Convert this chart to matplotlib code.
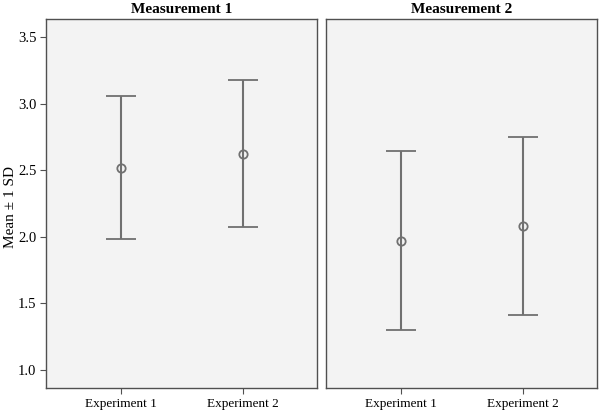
import matplotlib.pyplot as plt

plt.rcParams['font.family'] = ['Liberation Serif', 'DejaVu Serif']

panels = ['Measurement 1', 'Measurement 2']
groups = ['Experiment 1', 'Experiment 2']
means = [[2.52, 2.62], [1.97, 2.08]]
lower = [[1.98, 2.07], [1.30, 1.41]]
upper = [[3.055, 3.18], [2.645, 2.75]]
yticks = [1.0, 1.5, 2.0, 2.5, 3.0, 3.5]

line_col = '#707070'
frame_col = '#505050'

fig = plt.figure(figsize=(6, 4.13), dpi=100)
ax1 = fig.add_axes([0.0767, 0.0605, 0.4516, 0.8935])
ax2 = fig.add_axes([0.5433, 0.0605, 0.4516, 0.8935], sharey=ax1)

for i, ax in enumerate([ax1, ax2]):
    x = range(len(groups))
    m = means[i]
    err = [[m[j] - lower[i][j] for j in x], [upper[i][j] - m[j] for j in x]]
    ax.errorbar(x, m, yerr=err, fmt='o', color=line_col, ecolor=line_col,
                elinewidth=1.5, capsize=11, capthick=1.5,
                markersize=6, markerfacecolor='none', markeredgewidth=1.3)
    ax.set_facecolor('#f3f3f3')
    ax.set_xlim(-0.615, 1.605)
    ax.set_ylim(0.865, 3.635)
    ax.set_xticks(list(x))
    ax.set_xticklabels(groups, fontsize=9.5)
    ax.set_title(panels[i], fontsize=11, fontweight='bold', pad=4)
    for s in ax.spines.values():
        s.set_color(frame_col)
        s.set_linewidth(1.0)
    ax.tick_params(axis='both', direction='out', length=4, color=frame_col,
                   labelsize=9.5, pad=3)

ax1.set_yticks(yticks)
ax1.set_yticklabels([f'{v:.1f}' for v in yticks], fontsize=10.5)
ax1.tick_params(axis='y', pad=3)
ax1.set_ylabel('Mean ± 1 SD', fontsize=11)
ax1.yaxis.set_label_coords(0.028, 0.5, transform=fig.transFigure)
ax2.tick_params(axis='y', left=False, labelleft=False)

fig.savefig('out.png', dpi=100)
